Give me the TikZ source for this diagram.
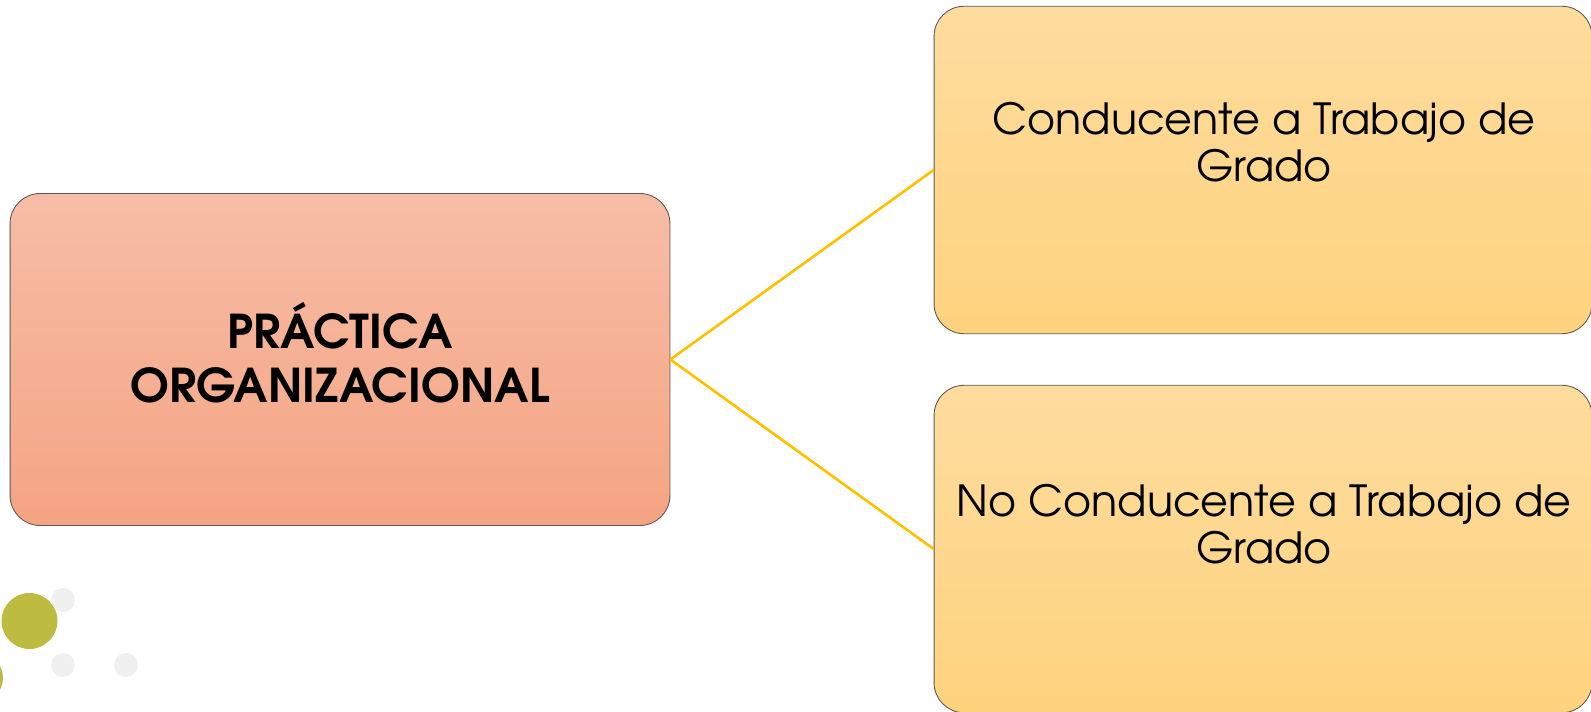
\documentclass[tikz,border=0pt]{standalone}
\usepackage{fontspec}
\setmainfont{TeX Gyre Adventor}
\usepackage{xcolor}
\definecolor{salmontop}{HTML}{F6BDA6}
\definecolor{salmonbot}{HTML}{F5A483}
\definecolor{goldtop}{HTML}{FEDC9E}
\definecolor{goldbot}{HTML}{FED37E}
\definecolor{edgegray}{HTML}{5E5850}
\definecolor{linkgold}{HTML}{FFC000}
\definecolor{olive}{HTML}{BDBC40}
\definecolor{dotgray}{HTML}{F0F0F0}

\tikzset{
  mainbox/.style={draw=edgegray,line width=0.5pt,rounded corners=0.6cm,
    top color=salmontop,bottom color=salmonbot,
    minimum width=13.2cm,minimum height=6.64cm},
  subbox/.style={draw=edgegray,line width=0.5pt,rounded corners=0.6cm,
    top color=goldtop,bottom color=goldbot,
    minimum width=13.16cm,minimum height=6.55cm},
  subtext/.style={align=center,font=\fontsize{24.4}{27}\selectfont}
}

\begin{document}
\begin{tikzpicture}[x=0.02cm,y=-0.02cm]
          \useasboundingbox (0,0) rectangle (1591,712);

          % decoration dots
          \fill[dotgray] (63,600) circle [radius=12];
          \fill[dotgray] (63,665) circle [radius=12];
          \fill[dotgray] (126,665) circle [radius=12];
          \fill[olive] (29.5,621) circle [radius=28];
          \fill[olive] (-22,678) circle [radius=25];

          \node[mainbox] (practica) at (340,359.5) {};
          \node[subbox] (conducente) at (1263,170) {};
          \node[subbox] (noconducente) at (1263,549) {};

          \draw[linkgold,line width=1.5pt] (practica.east) -- (conducente.west);
          \draw[linkgold,line width=1.5pt] (practica.east) -- (noconducente.west);

          \node[align=center,font=\fontsize{26.5}{31}\bfseries\selectfont] (practicatext) at (340,352.5) {PRÁCTICA\\ORGANIZACIONAL};
          \node[subtext] (conducentetext) at (1264,142) {Conducente a Trabajo de\\Grado};
          \node[subtext] (noconducentetext) at (1264,524) {No Conducente a Trabajo de\\Grado};
        \end{tikzpicture}
\end{document}
